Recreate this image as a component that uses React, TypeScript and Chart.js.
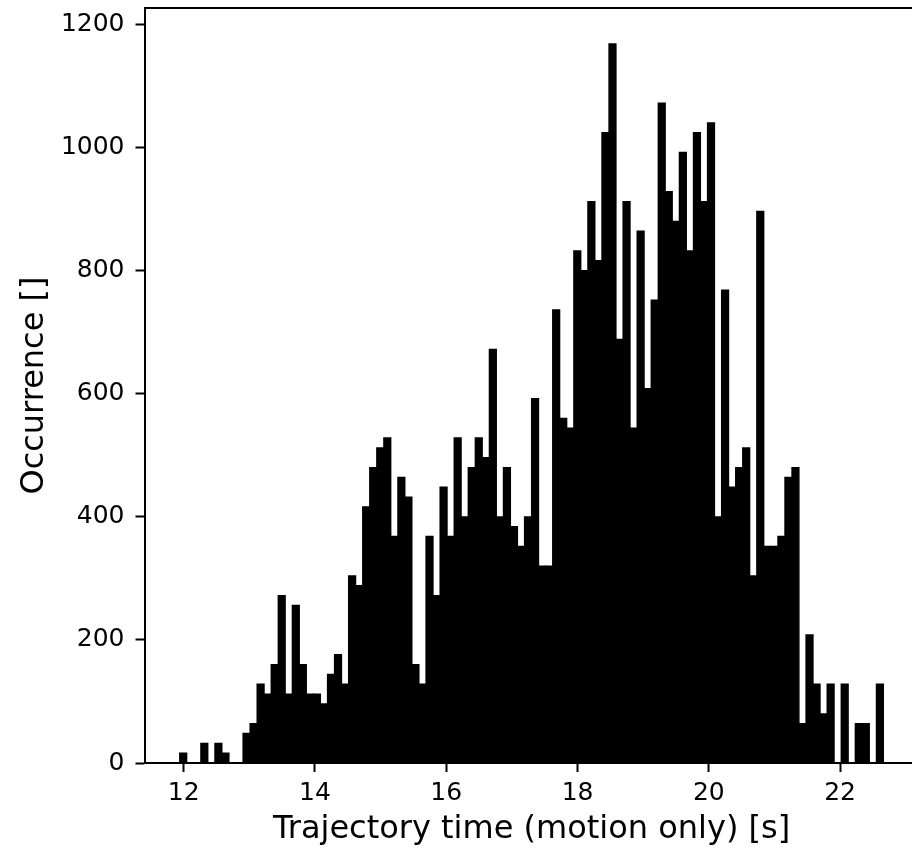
import React, { useEffect, useRef } from "react";
import { Chart, registerables } from "chart.js";

Chart.register(...registerables);

// Histogram bin range (100 equal bins)
const HIST_MIN = 11.939;
const HIST_MAX = 22.66;

// Occurrence per bin
const COUNTS = [
  16, 0, 0, 32, 0, 32, 16, 0, 0, 48,
  64, 128, 112, 160, 272, 112, 256, 160, 112, 112,
  96, 144, 176, 128, 304, 288, 416, 480, 512, 528,
  368, 464, 432, 160, 128, 368, 272, 448, 368, 528,
  400, 480, 528, 496, 672, 400, 480, 384, 352, 400,
  592, 320, 320, 736, 560, 544, 832, 800, 912, 816,
  1024, 1168, 688, 912, 544, 864, 608, 752, 1072, 928,
  880, 992, 832, 1024, 912, 1040, 400, 768, 448, 480,
  512, 304, 896, 352, 352, 368, 464, 480, 64, 208,
  128, 80, 128, 0, 128, 0, 64, 64, 0, 128,
];

const X_TICKS = [12, 14, 16, 18, 20, 22];
const Y_TICKS = [0, 200, 400, 600, 800, 1000, 1200];
const X_LIMITS = [11.403, 23.196];
const Y_LIMITS = [0, 1226.4];

const X_TITLE = "Trajectory time (motion only) [s]";
const Y_TITLE = "Occurrence []";

const FONT = "DejaVu Sans";

const framePlugin = {
  id: "frame",
  afterDraw(chart: any) {
    const { ctx, chartArea: a } = chart;
    ctx.save();
    ctx.strokeStyle = "#000";
    ctx.lineWidth = 2;
    ctx.beginPath();
    ctx.moveTo(a.left, a.top);
    ctx.lineTo(a.right, a.top);
    ctx.lineTo(a.right, a.bottom);
    ctx.stroke();

    ctx.fillStyle = "#000";
    ctx.font = `32px "${FONT}"`;
    ctx.textAlign = "center";
    ctx.textBaseline = "alphabetic";
    ctx.fillText(X_TITLE, (a.left + a.right) / 2, a.bottom + 75);

    ctx.translate(a.left - 102, (a.top + a.bottom) / 2);
    ctx.rotate(-Math.PI / 2);
    ctx.fillText(Y_TITLE, 0, 0);
    ctx.restore();
  },
};

export default function App() {
  const canvasRef = useRef<HTMLCanvasElement | null>(null);

  useEffect(() => {
    const canvas = canvasRef.current;
    if (!canvas) return;
    const binW = (HIST_MAX - HIST_MIN) / COUNTS.length;
    const data = COUNTS.map((c, i) => ({ x: HIST_MIN + (i + 0.5) * binW, y: c }));

    const tickFont = { family: FONT, size: 25 };

    const chart = new Chart(canvas, {
      type: "bar",
      data: {
        datasets: [
          {
            data: data as any,
            backgroundColor: "#000",
            borderWidth: 0,
            barPercentage: 1,
            categoryPercentage: 1,
            inflateAmount: 0.6,
          } as any,
        ],
      },
      options: {
        animation: false,
        responsive: false,
        devicePixelRatio: 1,
        layout: { padding: { top: 8, right: 1.4, left: 0, bottom: 0 } },
        plugins: {
          legend: { display: false },
          tooltip: { enabled: false },
          title: { display: false },
        },
        scales: {
          x: {
            type: "linear",
            min: X_LIMITS[0],
            max: X_LIMITS[1],
            offset: false,
            grid: {
              display: true,
              drawOnChartArea: false,
              drawTicks: true,
              tickLength: 9,
              tickWidth: 2,
              tickColor: "#000",
              offset: false,
            },
            border: { display: true, color: "#000", width: 2 },
            ticks: {
              font: tickFont,
              color: "#000",
              padding: 6,
              maxRotation: 0,
              autoSkip: false,
              includeBounds: false,
              callback: (v: any) => String(v),
            } as any,
            afterBuildTicks: (s: any) => {
              s.ticks = X_TICKS.map((v) => ({ value: v }));
            },
            afterFit: (s: any) => {
              s.height = 86;
              s.paddingLeft = 0;
              s.paddingRight = 0;
              s.paddingTop = 0;
              s.paddingBottom = 0;
            },
          },
          y: {
            type: "linear",
            min: Y_LIMITS[0],
            max: Y_LIMITS[1],
            grid: {
              display: true,
              drawOnChartArea: false,
              drawTicks: true,
              tickLength: 9,
              tickWidth: 2,
              tickColor: "#000",
            },
            border: { display: true, color: "#000", width: 2 },
            ticks: {
              font: tickFont,
              color: "#000",
              padding: 11,
              autoSkip: false,
              includeBounds: false,
              callback: (v: any) => String(v),
            } as any,
            afterBuildTicks: (s: any) => {
              s.ticks = Y_TICKS.map((v) => ({ value: v }));
            },
            afterFit: (s: any) => {
              s.width = 144.5;
              s.paddingLeft = 0;
              s.paddingRight = 0;
              s.paddingTop = 0;
              s.paddingBottom = 0;
            },
          },
        },
      },
      plugins: [framePlugin],
    });

    return () => chart.destroy();
  }, []);

  return (
    <div
      style={{
        position: "absolute",
        left: 0,
        top: 0,
        width: 912,
        height: 849,
        overflow: "hidden",
        background: "#fff",
      }}
    >
      <canvas ref={canvasRef} width={920} height={849} style={{ width: 920, height: 849, display: "block" }} />
    </div>
  );
}
